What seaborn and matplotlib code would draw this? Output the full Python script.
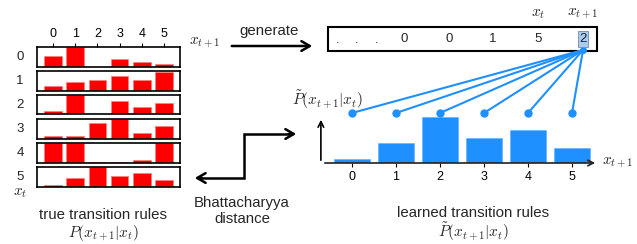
import numpy as np
import pandas as pd
import seaborn as sns
from matplotlib import pyplot as plt
from matplotlib.patches import Rectangle

# data
states = [0, 1, 2, 3, 4, 5]
true_row0 = [0.55, 1.00, 0.00, 0.40, 0.21, 0.12]
true_row1 = [0.22, 0.45, 0.53, 0.72, 0.55, 0.97]
true_row2 = [0.16, 1.00, 0.02, 0.71, 0.39, 0.57]
true_row3 = [0.11, 0.14, 0.77, 1.00, 0.26, 0.65]
true_row4 = [1.00, 1.00, 0.05, 0.02, 0.12, 1.00]
true_row5 = [0.08, 0.42, 1.00, 0.53, 0.68, 0.32]
learned = [0.09, 0.41, 0.93, 0.51, 0.67, 0.30]
sequence = ['.', '.', '.', '0', '0', '1', '5', '2']

W, H = 637, 244
RED = '#ff0000'
BLUE = '#1e90ff'


def box(x0, y0, x1, y1):
    # pixel box -> figure fraction rect
    return [x0 / W, 1 - y1 / H, (x1 - x0) / W, (y1 - y0) / H]


def main():
    sns.set_style('white')
    plt.rcParams['font.family'] = ['Liberation Sans', 'DejaVu Sans']
    plt.rcParams['mathtext.fontset'] = 'cm'

    fig = plt.figure(figsize=(W / 100, H / 100), dpi=100)
    ov = fig.add_axes([0, 0, 1, 1])
    ov.set_xlim(0, W)
    ov.set_ylim(H, 0)
    ov.axis('off')

    # left: true transition rules, one small panel per x_t
    rows = [true_row0, true_row1, true_row2, true_row3, true_row4, true_row5]
    for i, row in enumerate(rows):
        top = 47 + 24 * i
        ax = fig.add_axes(box(37, top, 180, top + 19.5))
        df = pd.DataFrame({'s': states, 'p': row})
        sns.barplot(data=df, x='s', y='p', color=RED, saturation=1, width=0.8,
                    edgecolor='#ff8080', linewidth=0.5, ax=ax)
        ax.set_xlim(-0.72, 5.72)
        ax.set_ylim(0, 1)
        ax.set_xlabel('')
        ax.set_ylabel('')
        ax.set_yticks([])
        for sp in ax.spines.values():
            sp.set_visible(True)
            sp.set_color('black')
            sp.set_linewidth(1.2)
        if i == 0:
            ax.xaxis.tick_top()
            ax.tick_params(axis='x', top=True, bottom=False, length=3, width=0.8,
                           direction='out', labelsize=9, pad=2, colors='black')
        else:
            ax.set_xticks([])
        ax.text(-0.119, 0.5, str(states[i]), transform=ax.transAxes,
                ha='center', va='center', fontsize=9.5)

    ov.text(20, 193, r'$x_t$', ha='center', va='center', fontsize=11)
    ov.text(103, 215, 'true transition rules', ha='center', va='center', fontsize=10.8)
    ov.text(103, 233, r'$P(x_{t+1}|x_t)$', ha='center', va='center', fontsize=11)

    # generate arrow + sequence box
    ov.text(205, 43, r'$x_{t+1}$', ha='center', va='center', fontsize=11)
    ov.text(269, 31, 'generate', ha='center', va='center', fontsize=10.8)
    ov.annotate('', xy=(315, 46), xytext=(229, 46),
                arrowprops=dict(arrowstyle='->,head_length=0.6,head_width=0.35',
                                lw=1.8, color='black'))
    ov.add_patch(Rectangle((328, 27), 269, 24, fill=False, lw=1.5, ec='black'))
    xs = [338, 357, 377, 404, 449, 493, 538, 583]
    for x, tok in zip(xs, sequence):
        if tok == '.':
            ov.text(x, 40, tok, ha='center', va='center', fontsize=9)
        elif x == xs[-1]:
            ov.text(x, 39, tok, ha='center', va='center', fontsize=9.5,
                    bbox=dict(boxstyle='square,pad=0.12', fc='#a8cdf2', ec='#7a8a9a', lw=0.6))
        else:
            ov.text(x, 39, tok, ha='center', va='center', fontsize=9.5)
    ov.text(538, 14, r'$x_t$', ha='center', va='center', fontsize=11)
    ov.text(583, 14, r'$x_{t+1}$', ha='center', va='center', fontsize=11)

    # Bhattacharyya distance arrows
    ov.plot([200, 244, 244, 291], [178, 178, 134, 134], color='black', lw=1.8,
            solid_joinstyle='miter')
    ov.annotate('', xy=(192, 178), xytext=(205, 178),
                arrowprops=dict(arrowstyle='->,head_length=0.6,head_width=0.35',
                                lw=1.8, color='black'))
    ov.annotate('', xy=(299, 134), xytext=(286, 134),
                arrowprops=dict(arrowstyle='->,head_length=0.6,head_width=0.35',
                                lw=1.8, color='black'))
    ov.text(242, 203, 'Bhattacharyya', ha='center', va='center', fontsize=10.8)
    ov.text(242, 219, 'distance', ha='center', va='center', fontsize=10.8)

    # right: learned transition rules
    axr = fig.add_axes(box(322, 113, 598, 163))
    dfl = pd.DataFrame({'s': states, 'p': learned})
    sns.barplot(data=dfl, x='s', y='p', color=BLUE, saturation=1, width=0.8,
                edgecolor='#6ab4ff', linewidth=0.5, ax=axr)
    axr.set_xlim(-0.68, 5.59)
    axr.set_ylim(0, 1)
    axr.set_xlabel('')
    axr.set_ylabel('')
    axr.set_yticks([])
    for sp in axr.spines.values():
        sp.set_visible(False)
    axr.tick_params(axis='x', bottom=True, length=3, width=0.8, direction='out',
                    labelsize=9, pad=3, colors='black')
    axr.annotate('', xy=(1.0, 0), xytext=(0, 0), xycoords='axes fraction',
                 arrowprops=dict(arrowstyle='->,head_length=0.4,head_width=0.2',
                                 lw=1.2, color='#222222'))
    axr.annotate('', xy=(-0.004, 0.92), xytext=(-0.004, 0), xycoords='axes fraction',
                 arrowprops=dict(arrowstyle='->,head_length=0.4,head_width=0.2',
                                 lw=1.2, color='black'))
    axr.plot(range(len(states)), [1.0] * len(states), 'o', color=BLUE, ms=5,
             clip_on=False)
    ov.text(602, 163, r'$x_{t+1}$', ha='left', va='center', fontsize=11)
    ov.text(327, 100, r'$\tilde{P}(x_{t+1}|x_t)$', ha='center', va='center', fontsize=11)
    ov.text(473, 213, 'learned transition rules', ha='center', va='center', fontsize=10.8)
    ov.text(473, 232, r'$\tilde{P}(x_{t+1}|x_t)$', ha='center', va='center', fontsize=11)

    # fan of lines from the generated token down to each outcome
    ox, oy = 583, 50
    ov.plot([ox], [oy], 'o', color=BLUE, ms=4)
    for i in range(len(states)):
        dx, dy = axr.transData.transform((i, 1.0))
        ov.plot([ox, dx], [oy, H - dy], color=BLUE, lw=1.5)

    fig.savefig('out.png', dpi=100)


if __name__ == "__main__":
    main()
